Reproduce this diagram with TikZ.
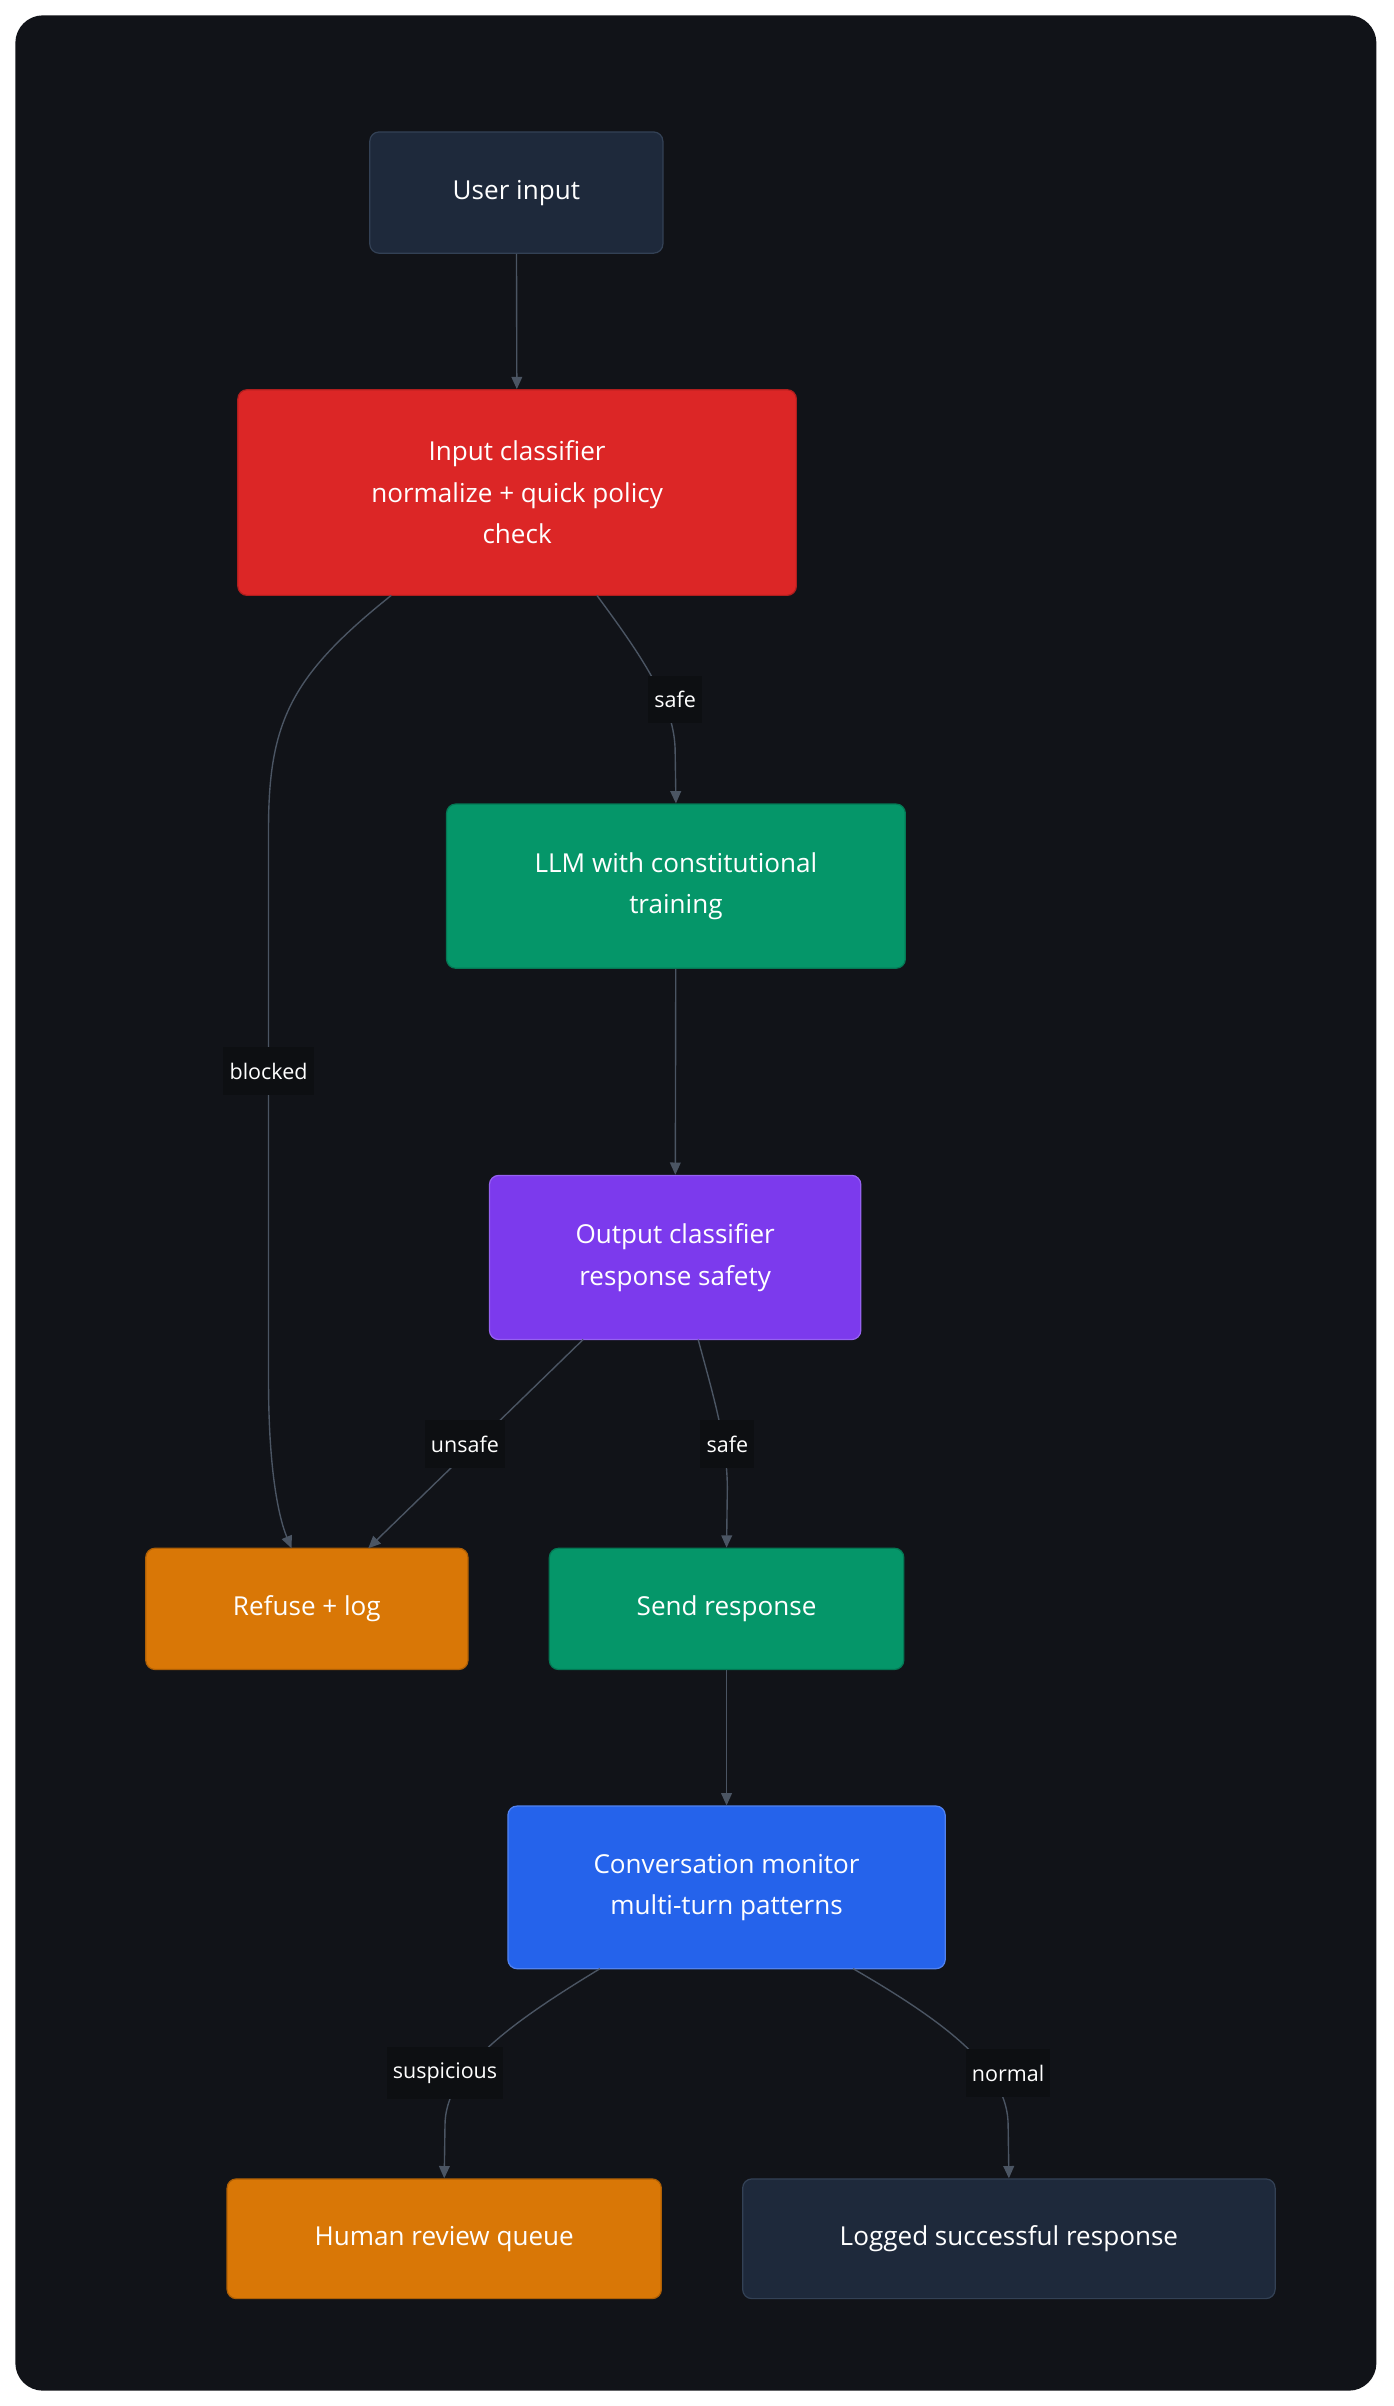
\documentclass[tikz,border=0pt]{standalone}
\usepackage{fontspec}
\setmainfont{Open Sans}
\usetikzlibrary{arrows.meta}
\definecolor{bg}{HTML}{111318}
\definecolor{edge}{HTML}{4B5563}
\definecolor{slate}{HTML}{1E293B}
\definecolor{slateb}{HTML}{334155}
\definecolor{red}{HTML}{DC2626}
\definecolor{green}{HTML}{059669}
\definecolor{purple}{HTML}{7C3AED}
\definecolor{orange}{HTML}{D97706}
\definecolor{blue}{HTML}{2563EB}
\definecolor{lbl}{HTML}{0D0F12}
\tikzset{
 box/.style={rectangle,rounded corners=6pt,text=white,font=\fontsize{17}{27}\selectfont,align=center,line width=0.8pt,inner sep=0pt},
 e/.style={draw=edge,line width=0.9pt,-{Triangle[length=8pt,width=7pt]}},
 l/.style={fill=lbl,text=white,font=\fontsize{14}{16}\selectfont,inner xsep=4pt,inner ysep=10pt},
}
\begin{document}
\begin{tikzpicture}[x=1pt,y=-1pt]
\useasboundingbox (0,0) rectangle (908,1568);
\fill[white] (0,0) rectangle (908,1568);
\fill[bg,rounded corners=18pt] (10,10) rectangle (897,1558);
\node[box,fill=slate,draw=slateb,minimum width=191,minimum height=79] (u) at (336.5,125.5) {User input};
\node[box,fill=red,draw=red!80!black,minimum width=364,minimum height=134] (ic) at (337,321) {Input classifier\\normalize + quick policy\\check};
\node[box,fill=green,draw=green!80!black,minimum width=299,minimum height=107] (llm) at (440.5,577.5) {LLM with constitutional\\training};
\node[box,fill=purple,draw=purple!80!white,minimum width=242,minimum height=107] (oc) at (440,819.5) {Output classifier\\response safety};
\node[box,fill=orange,draw=orange!80!black,minimum width=210,minimum height=79] (rl) at (200,1048.5) {Refuse + log};
\node[box,fill=green,draw=green!80!black,minimum width=231,minimum height=79] (sr) at (473.5,1048.5) {Send response};
\node[box,fill=blue,draw=blue!80!white,minimum width=285,minimum height=106] (cm) at (473.5,1230) {Conversation monitor\\multi-turn patterns};
\node[box,fill=orange,draw=orange!80!black,minimum width=283,minimum height=78] (hr) at (289.5,1459) {Human review queue};
\node[box,fill=slate,draw=slateb,minimum width=347,minimum height=78] (lg) at (657.5,1459) {Logged successful response};
\coordinate (ic1) at (255,388); \coordinate (ic2) at (389,388);
\coordinate (oc1) at (380,873); \coordinate (oc2) at (455,873);
\coordinate (cm1) at (391,1283); \coordinate (cm2) at (556,1283);
\coordinate (rl1) at (190,1009); \coordinate (rl2) at (240,1009);
\draw[e] (u) -- (ic);
\draw[e] (ic1) .. controls (190,440) and (175,470) .. (175,540) -- (175,900) .. controls (175,960) and (182,990) .. node[pos=0,coordinate](x){} (rl1);
\node[l] at (175,698) {blocked};
\draw[e] (ic2) .. controls (420,430) and (440,460) .. (440,490) -- (llm.north);
\node[l] at (440,456) {safe};
\draw[e] (llm) -- (oc);
\draw[e] (oc1) -- (rl2);
\node[l] at (303,941) {unsafe};
\draw[e] (oc2) .. controls (465,910) and (474,940) .. (474,970) -- (sr.north);
\node[l] at (474,941) {safe};
\draw[e] (sr) -- (cm);
\draw[e] (cm1) .. controls (330,1320) and (290,1350) .. (290,1385) -- (hr.north);
\node[l] at (290,1351) {suspicious};
\draw[e] (cm2) .. controls (620,1320) and (657,1350) .. (657,1385) -- (lg.north);
\node[l] at (657,1351) {normal};
\end{tikzpicture}
\end{document}
